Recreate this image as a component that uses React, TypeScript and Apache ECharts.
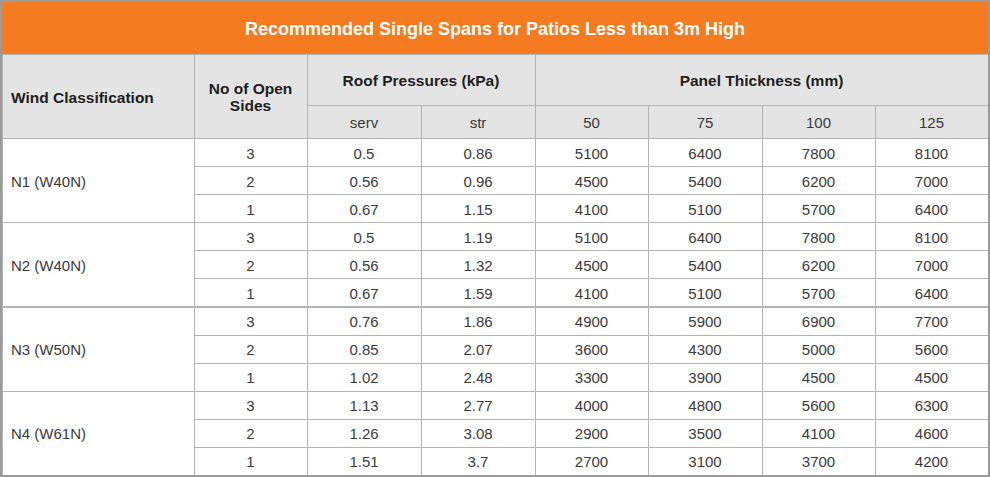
import React, { useEffect, useRef } from "react";
import * as echarts from "echarts";

// ---- data ----
const title = "Recommended Single Spans for Patios Less than 3m High";
const windClasses = ["N1 (W40N)", "N2 (W40N)", "N3 (W50N)", "N4 (W61N)"];
const openSides = [3, 2, 1];
const servPressure = [0.5, 0.56, 0.67, 0.5, 0.56, 0.67, 0.76, 0.85, 1.02, 1.13, 1.26, 1.51];
const strPressure = [0.86, 0.96, 1.15, 1.19, 1.32, 1.59, 1.86, 2.07, 2.48, 2.77, 3.08, 3.7];
const thicknesses = [50, 75, 100, 125];
const span50 = [5100, 4500, 4100, 5100, 4500, 4100, 4900, 3600, 3300, 4000, 2900, 2700];
const span75 = [6400, 5400, 5100, 6400, 5400, 5100, 5900, 4300, 3900, 4800, 3500, 3100];
const span100 = [7800, 6200, 5700, 7800, 6200, 5700, 6900, 5000, 4500, 5600, 4100, 3700];
const span125 = [8100, 7000, 6400, 8100, 7000, 6400, 7700, 5600, 4500, 6300, 4600, 4200];
const headWind = "Wind Classification";
const headSides = "No of Open\nSides";
const headRoof = "Roof Pressures (kPa)";
const headPanel = "Panel Thickness (mm)";
const subRoof = ["serv", "str"];

// ---- layout (axis units) ----
const W = 990;
const H = 477;
const colEdges = [2, 194, 307, 421, 535, 648, 762, 875, 988];
const titleTop = 2;
const headTop = 54;
const headMid = 105;
const headBottom = 138;
const dataBottom = 475;

const ORANGE = "#f47b20";
const GREY = "#e4e4e4";
const LINE = "#b4b4b4";
const FONT = "'Liberation Sans', Arial, Helvetica, sans-serif";

type Cell = {
  x0: number; x1: number; y0: number; y1: number;
  text: string; kind: "title" | "head" | "sub" | "data" | "dataLeft";
};

function buildCells(): Cell[] {
  const cells: Cell[] = [];
  cells.push({ x0: colEdges[0], x1: colEdges[8], y0: titleTop, y1: headTop, text: title, kind: "title" });
  cells.push({ x0: colEdges[0], x1: colEdges[1], y0: headTop, y1: headBottom, text: headWind, kind: "head" });
  cells.push({ x0: colEdges[1], x1: colEdges[2], y0: headTop, y1: headBottom, text: headSides, kind: "head" });
  cells.push({ x0: colEdges[2], x1: colEdges[4], y0: headTop, y1: headMid, text: headRoof, kind: "head" });
  cells.push({ x0: colEdges[4], x1: colEdges[8], y0: headTop, y1: headMid, text: headPanel, kind: "head" });
  subRoof.forEach((s, i) => cells.push({ x0: colEdges[2 + i], x1: colEdges[3 + i], y0: headMid, y1: headBottom, text: s, kind: "sub" }));
  thicknesses.forEach((t, i) => cells.push({ x0: colEdges[4 + i], x1: colEdges[5 + i], y0: headMid, y1: headBottom, text: String(t), kind: "sub" }));
  const nRows = windClasses.length * openSides.length;
  const rh = (dataBottom - headBottom) / nRows;
  windClasses.forEach((w, g) => {
    const gy0 = headBottom + g * openSides.length * rh;
    cells.push({ x0: colEdges[0], x1: colEdges[1], y0: gy0, y1: gy0 + openSides.length * rh, text: w, kind: "dataLeft" });
  });
  const cols = [servPressure, strPressure, span50, span75, span100, span125];
  for (let r = 0; r < nRows; r++) {
    const y0 = headBottom + r * rh;
    const y1 = y0 + rh;
    cells.push({ x0: colEdges[1], x1: colEdges[2], y0, y1, text: String(openSides[r % openSides.length]), kind: "data" });
    cols.forEach((arr, c) => {
      cells.push({ x0: colEdges[2 + c], x1: colEdges[3 + c], y0, y1, text: String(arr[r]), kind: "data" });
    });
  }
  return cells;
}

export default function App() {
  const ref = useRef<HTMLDivElement>(null);
  useEffect(() => {
    if (!ref.current) return;
    const chart = echarts.init(ref.current, undefined, { renderer: "svg" });
    const cells = buildCells();
    chart.setOption({
      animation: false,
      backgroundColor: "#ffffff",
      grid: { left: 0, right: 0, top: 0, bottom: 0 },
      xAxis: { type: "value", min: 0, max: W, show: false },
      yAxis: { type: "value", min: 0, max: H, inverse: true, show: false },
      series: [
        {
          type: "custom",
          coordinateSystem: "cartesian2d",
          encode: { x: [0, 1], y: [2, 3] },
          data: cells.map((c) => [c.x0, c.x1, c.y0, c.y1]),
          renderItem: (params: any, api: any) => {
            const c = cells[params.dataIndex];
            const p0 = api.coord([api.value(0), api.value(2)]);
            const p1 = api.coord([api.value(1), api.value(3)]);
            const x = p0[0], y = p0[1], w = p1[0] - p0[0], h = p1[1] - p0[1];
            let fill = "#ffffff";
            let stroke = LINE;
            let color = "#3a3a3a";
            let fontSize = 15;
            let fontWeight: any = "normal";
            let align = "center";
            let tx = x + w / 2;
            if (c.kind === "title") { fill = ORANGE; stroke = ORANGE; color = "#ffffff"; fontSize = 18; fontWeight = "bold"; }
            if (c.kind === "head") { fill = GREY; color = "#1e1e1e"; fontWeight = "bold"; fontSize = 15.5; }
            if (c.kind === "sub") { fill = GREY; color = "#3a3a3a"; }
            if (c.kind === "dataLeft") { align = "left"; tx = x + 9; }
            if (c.kind === "head" && c.text === headWind) { align = "left"; tx = x + 9; }
            return {
              type: "group",
              children: [
                {
                  type: "rect",
                  shape: { x: Math.round(x) + 0.5, y: Math.round(y) + 0.5, width: Math.round(w), height: Math.round(h) },
                  style: { fill, stroke, lineWidth: 1 },
                },
                {
                  type: "text",
                  style: {
                    text: c.text,
                    x: tx,
                    y: y + h / 2 + 1,
                    align,
                    verticalAlign: "middle",
                    fill: color,
                    fontSize,
                    fontWeight,
                    fontFamily: FONT,
                    lineHeight: 17,
                  },
                },
              ],
            };
          },
        },
      ],
      graphic: [
        {
          type: "rect",
          shape: { x: 1, y: 1, width: W - 2, height: H - 2 },
          style: { fill: "none", stroke: "#9a9a9a", lineWidth: 2 },
          z: 100,
        },
      ],
    });
    return () => chart.dispose();
  }, []);
  return (
    <div
      ref={ref}
      style={{ position: "fixed", left: 0, top: 0, width: W, height: H }}
    />
  );
}
